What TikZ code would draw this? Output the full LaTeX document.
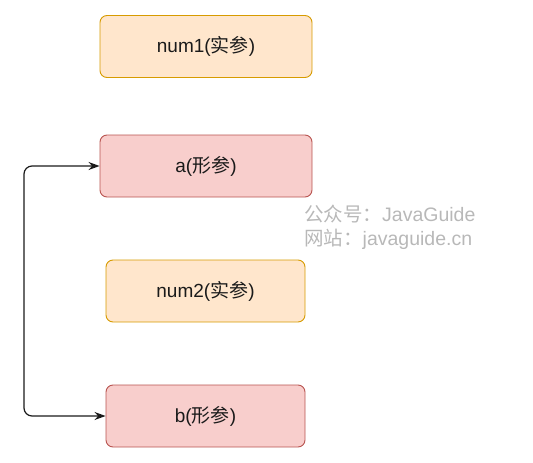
\documentclass[tikz,border=0pt]{standalone}
\usepackage{fontspec}
\setmainfont{Liberation Sans}
\newfontfamily\cjk{Noto Sans CJK SC}
\usetikzlibrary{arrows.meta}
\definecolor{orfill}{HTML}{FFE6CC}
\definecolor{ordraw}{HTML}{D79B00}
\definecolor{rdfill}{HTML}{F8CECC}
\definecolor{rddraw}{HTML}{B85450}
\definecolor{wmark}{HTML}{B8B8B8}
\definecolor{txt}{HTML}{1A1A1A}
\tikzset{
  box/.style={rounded corners=7pt, line width=0.9pt, minimum height=62pt, inner sep=0pt,
    text=txt, font=\fontsize{19}{22}\selectfont},
  actual/.style={box, fill=orfill, draw=ordraw},
  formal/.style={box, fill=rdfill, draw=rddraw},
  link/.style={line width=1.2pt, draw=txt, rounded corners=8pt, {Stealth[length=11pt,width=8pt]}-{Stealth[length=11pt,width=8pt]}},
  wm/.style={text=wmark, font=\fontsize{19.5}{22}\selectfont, anchor=west, inner sep=0pt}
}
\begin{document}
\begin{tikzpicture}[x=1pt,y=-1pt]
\useasboundingbox (0,0) rectangle (533,463);
\node[actual, minimum width=212pt] (num1) at (206,46.5) {num1({\cjk 实参})};
\node[formal, minimum width=212pt] (a) at (206,166) {a({\cjk 形参})};
\node[actual, minimum width=199pt] (num2) at (205.5,291) {num2({\cjk 实参})};
\node[formal, minimum width=199pt] (b) at (205.5,416) {b({\cjk 形参})};
\coordinate (c1) at (24,416);
\coordinate (c2) at (24,166);
\draw[link] (b.west) -- (c1) -- (c2) -- (a.west);
\node[wm] (w1) at (304,214) {{\cjk 公众号：}JavaGuide};
\node[wm] (w2) at (304,239) {{\cjk 网站：}javaguide.cn};
\end{tikzpicture}
\end{document}
